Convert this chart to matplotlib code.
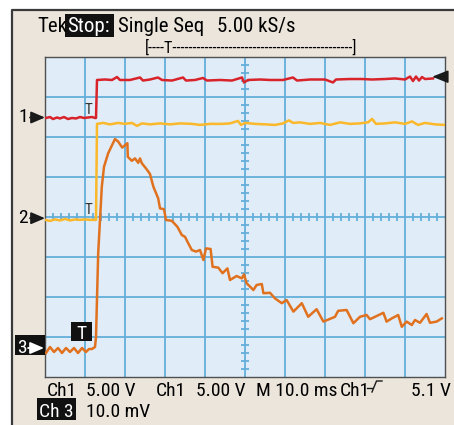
import matplotlib
matplotlib.use("Agg")
import matplotlib.pyplot as plt
from matplotlib.patches import Rectangle
from matplotlib.transforms import blended_transform_factory

plt.rcParams["font.family"] = ["Roboto Condensed", "DejaVu Sans"]

# --- captured waveforms: time in ms from the left edge of the record ---
ch1_t = [0.25, 1.25, 2.0, 3.0, 3.75, 4.75, 5.75, 6.75, 7.75, 8.75, 9.75, 10.75,
         11.75, 12.5, 12.75, 13.0, 15.0, 16.75, 18.0, 18.75, 21.25, 23.75, 24.5,
         26.25, 28.25, 29.25, 31.75, 34.5, 35.25, 37.5, 39.5, 40.5, 43.75, 46.75,
         49.25, 49.75, 50.75, 53.75, 56.25, 59.5, 62.0, 63.0, 66.25, 70.0, 72.0,
         72.75, 76.25, 79.25, 81.75, 85.0, 87.5, 90.0, 91.25, 92.0, 92.75, 93.5,
         94.25, 95.0, 97.0]
ch1_v = [-0.06, 0.06, -0.19, 0.0, -0.12, 0.06, -0.19, -0.06, -0.12, 0.06, -0.06,
         0.0, 0.06, -0.06, -0.06, 4.69, 4.75, 4.69, 5.06, 4.69, 4.69, 5.0, 4.62,
         4.75, 5.0, 4.69, 4.62, 5.0, 4.62, 4.69, 4.94, 4.62, 4.69, 4.62, 5.0,
         4.38, 4.69, 4.75, 4.69, 4.69, 5.0, 4.62, 4.75, 4.75, 4.38, 4.75, 4.81,
         4.81, 4.75, 4.81, 4.88, 4.75, 5.12, 4.56, 5.12, 4.62, 5.06, 4.81, 4.88]

ch2_t = [0.0, 1.25, 2.5, 3.75, 5.0, 6.25, 7.5, 8.75, 10.0, 11.25, 12.5, 12.75,
         13.0, 14.5, 16.25, 18.25, 20.0, 21.75, 23.0, 24.25, 26.25, 28.75, 31.25,
         33.75, 36.75, 38.75, 41.25, 44.25, 46.25, 48.25, 49.0, 50.0, 52.5, 55.0,
         57.5, 59.5, 61.0, 62.0, 63.75, 66.25, 68.75, 71.25, 73.75, 76.25, 78.75,
         80.75, 81.75, 82.75, 85.0, 87.5, 90.0, 91.75, 93.25, 95.0, 97.5, 100.0]
ch2_v = [-0.21, -0.34, -0.15, -0.28, -0.09, -0.28, -0.15, -0.21, -0.15, -0.21,
         -0.21, -0.21, 11.79, 11.91, 11.73, 11.91, 11.79, 11.91, 11.54, 11.85,
         11.73, 11.85, 11.73, 11.85, 11.79, 11.66, 11.79, 11.79, 11.85, 12.16,
         11.66, 11.91, 11.79, 11.73, 11.66, 11.85, 12.23, 11.91, 11.98, 11.79,
         11.91, 11.66, 11.98, 11.79, 11.85, 11.98, 12.41, 11.79, 11.85, 11.98,
         11.79, 12.1, 11.66, 11.91, 11.73, 11.66]

ch3_t = [0.25, 1.25, 2.25, 3.25, 4.25, 5.25, 6.25, 7.25, 8.25, 9.25, 10.25, 11.0,
         11.75, 12.5, 12.75, 13.3, 14.2, 14.75, 15.8, 17.5, 18.3, 19.3, 20.6,
         20.7, 21.7, 22.5, 23.3, 23.75, 24.2, 25.4, 26.25, 27.1, 28.3, 28.75,
         29.75, 30.25, 31.7, 33.1, 34.2, 35.0, 35.8, 36.7, 37.75, 38.75, 39.6,
         40.25, 41.4, 41.9, 43.3, 44.4, 45.6, 46.25, 47.9, 49.2, 49.75, 50.4,
         52.1, 52.9, 54.2, 54.6, 56.25, 57.5, 59.2, 60.4, 62.1, 64.2, 65.8, 67.9,
         69.6, 72.5, 73.3, 75.4, 77.1, 78.75, 80.4, 81.25, 82.5, 84.6, 85.4, 86.7,
         88.3, 89.2, 90.4, 91.7, 92.5, 93.75, 95.4, 96.25, 97.9, 99.2]
ch3_mv = [-1.25, 0.25, -1.0, 0.0, -1.25, 0.0, -1.0, 0.0, -1.25, 0.0, -1.0, -0.25,
          -0.25, 0.25, 2.75, 23.75, 40.3, 45.3, 48.7, 52.25, 51.6, 50.1, 51.2,
          47.8, 46.8, 47.4, 46.3, 47.4, 46.2, 44.7, 43.5, 40.3, 37.4, 34.9, 34.7,
          32.0, 31.8, 30.3, 28.25, 27.8, 26.2, 24.5, 24.1, 24.5, 22.0, 24.9,
          24.75, 20.3, 20.1, 18.7, 19.9, 17.0, 18.0, 17.4, 18.4, 16.2, 14.5,
          15.75, 16.0, 13.7, 13.8, 12.4, 11.2, 12.0, 9.1, 11.2, 7.8, 9.7, 6.6,
          7.8, 9.3, 9.5, 6.2, 7.8, 8.25, 7.2, 7.8, 8.8, 6.6, 7.4, 8.25, 5.3, 6.6,
          5.75, 7.0, 6.3, 8.5, 6.3, 6.6, 7.4]

# vertical scale (units/div) and ground position (div from centre) per channel
ch1_scale, ch1_pos = 5.0, 2.4875
ch2_scale, ch2_pos = 5.0, -0.03
ch3_scale, ch3_pos = 10.0, -3.275
trig_level = 5.1        # V, ch1 rising edge
trig_time = 11.0        # ms, where the T markers sit

ms_per_div = 10.0
n_hdiv, n_vdiv = 10, 8

RED, YEL, ORG = "#d8232b", "#fbb82a", "#e0711f"
BEIGE, SCREEN, GRID = "#ebe5dc", "#e0ecf7", "#62aedb"

W, H = 454, 425
fig = plt.figure(figsize=(W / 100, H / 100), dpi=100, facecolor="white")

# pixel-space background layer
bg = fig.add_axes([0, 0, 1, 1])
bg.set_xlim(0, W); bg.set_ylim(H, 0); bg.axis("off")
bg.add_patch(Rectangle((12, 10), W - 12, H - 10, facecolor=BEIGE, edgecolor="none"))
bg.plot([12, 12, W], [H, 10, 10], color="#3a3a3a", lw=1.6, solid_capstyle="butt")

# graticule
L, T, R, B = 45, 57, 445, 377
scr = fig.add_axes([L / W, 1 - B / H, (R - L) / W, (B - T) / H])
scr.set_facecolor(SCREEN)
xmax = n_hdiv * ms_per_div
scr.set_xlim(0, xmax); scr.set_ylim(-n_vdiv / 2, n_vdiv / 2)
scr.set_xticks([]); scr.set_yticks([])
for s in scr.spines.values():
    s.set_color("#505050"); s.set_linewidth(1.0)
for i in range(1, n_hdiv):
    scr.axvline(i * ms_per_div, color=GRID, lw=1.3, zorder=1)
for j in range(-n_vdiv // 2 + 1, n_vdiv // 2):
    scr.axhline(j, color=GRID, lw=1.3, zorder=1)

# minor ticks along the centre cross
xc = xmax / 2
vt = [k / 5 for k in range(-5 * n_vdiv // 2 + 1, 5 * n_vdiv // 2) if k % 5]
scr.hlines(vt, xc - 1.0, xc + 1.0, color=GRID, lw=1.3, zorder=1)
ht = [k * ms_per_div / 5 for k in range(1, 5 * n_hdiv) if k % 5]
scr.vlines(ht, -0.1, 0.1, color=GRID, lw=1.3, zorder=1)

# traces
scr.plot(ch3_t, [v / ch3_scale + ch3_pos for v in ch3_mv], color=ORG, lw=1.8,
         zorder=3, solid_joinstyle="round")
scr.plot(ch2_t, [v / ch2_scale + ch2_pos for v in ch2_v], color=YEL, lw=1.8,
         zorder=4, solid_joinstyle="round")
scr.plot(ch1_t, [v / ch1_scale + ch1_pos for v in ch1_v], color=RED, lw=1.8,
         zorder=5, solid_joinstyle="round")

# trigger level pointer on the right edge
lvl = trig_level / ch1_scale + ch1_pos
scr.annotate("", xy=(96.8, lvl), xytext=(100, lvl), zorder=6,
             arrowprops=dict(arrowstyle="-|>,head_length=0.8,head_width=0.32",
                             color="#1a1a1a", lw=1.2, mutation_scale=12,
                             shrinkA=0, shrinkB=0))

# T markers above the ch1 / ch2 ground positions
for pos in (ch1_pos, ch2_pos):
    scr.text(trig_time, pos + 0.02, "T", ha="center", va="bottom", fontsize=11,
             color="#333333", zorder=6)

# foreground layer for the readouts and channel markers
fg = fig.add_axes([0, 0, 1, 1])
fg.set_xlim(0, W); fg.set_ylim(H, 0); fg.axis("off"); fg.patch.set_alpha(0)
mix = blended_transform_factory(fg.transData, scr.transData)

big = 15
fg.text(37, 32, "Tek", fontsize=big, va="baseline")
fg.add_patch(Rectangle((65, 14), 49, 23, facecolor="#111111", edgecolor="none"))
fg.text(67, 32, "Stop:", fontsize=big, va="baseline", color="white")
fg.text(118, 32, "Single Seq", fontsize=big, va="baseline")
fg.text(217, 32, "5.00 kS/s", fontsize=big, va="baseline")
fg.text(145, 53, "[----T" + "-" * 45 + "]", fontsize=11.5, va="baseline")

mid = 14
for x, s in [(47, "Ch1"), (86, "5.00 V"), (156, "Ch1"), (196, "5.00 V"),
             (256, "M 10.0 ms"), (340, "Ch1"), (411, "5.1 V")]:
    fg.text(x, 396, s, fontsize=mid, va="baseline")
fg.plot([367, 372], [388, 388], color="#1a1a1a", lw=1.0)
fg.plot([372, 376.5, 382], [392, 381, 381], color="#1a1a1a", lw=1.0)
fg.add_patch(Rectangle((37, 398), 39, 22, facecolor="#111111", edgecolor="none"))
fg.text(39, 417, "Ch 3", fontsize=mid, va="baseline", color="white")
fg.text(86, 417, "10.0 mV", fontsize=mid, va="baseline")

# channel ground markers on the left edge
for pos, lab in [(ch1_pos, "1"), (ch2_pos, "2")]:
    fg.text(18, pos, lab, fontsize=mid, ha="left", va="center", transform=mix)
    fg.annotate("", xy=(45, pos), xytext=(30, pos), xycoords=mix, textcoords=mix,
                arrowprops=dict(arrowstyle="-|>,head_length=0.7,head_width=0.3",
                                color="#1a1a1a", lw=1.3, mutation_scale=12,
                                shrinkA=0, shrinkB=0))
fg.add_patch(Rectangle((15, 335), 30, 20, facecolor="#111111", edgecolor="none"))
fg.text(17, ch3_pos, "3", fontsize=mid, ha="left", va="center", color="white",
        transform=mix)
fg.annotate("", xy=(44, ch3_pos), xytext=(28, ch3_pos), xycoords=mix, textcoords=mix,
            arrowprops=dict(arrowstyle="-|>,head_length=0.7,head_width=0.3",
                            color="white", lw=1.3, mutation_scale=12,
                            shrinkA=0, shrinkB=0))

# trigger marker box for ch3
fg.add_patch(Rectangle((71, 322), 21, 19, facecolor="#111111", edgecolor="none",
                       zorder=5))
fg.text(81.5, 339, "T", fontsize=mid, ha="center", va="baseline", color="white",
        zorder=6)

fig.savefig("out.png", dpi=100, facecolor="white")
